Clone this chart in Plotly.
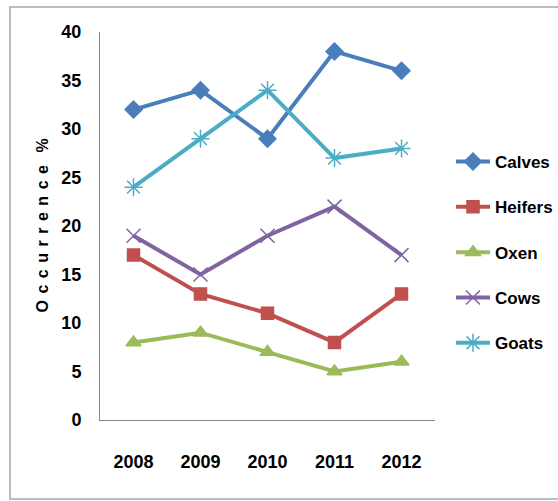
import plotly.graph_objects as go

# Survey years on the category axis
years = ["2008", "2009", "2010", "2011", "2012"]

# Occurrence (%) per animal class
calves = [32, 34, 29, 38, 36]
heifers = [17, 13, 11, 8, 13]
oxen = [8, 9, 7, 5, 6]
cows = [19, 15, 19, 22, 17]
goats = [24, 29, 34, 27, 28]

y_ticks = [0, 5, 10, 15, 20, 25, 30, 35, 40]

series = [
    ("Calves", calves, "#4A7EBB", "diamond", 13),
    ("Heifers", heifers, "#C0504D", "square", 12),
    ("Oxen", oxen, "#9BBB59", "triangle-up", 13),
    ("Cows", cows, "#8064A2", "x-thin-open", 14),
    ("Goats", goats, "#4BACC6", "asterisk-open", 15),
]

FONT = "Liberation Sans, Arial, sans-serif"

fig = go.Figure()
for i, (name, vals, color, symbol, size) in enumerate(series):
    fig.add_trace(go.Scatter(
        x=years, y=vals, name=name, mode="lines+markers",
        legendgroup=f"g{i}",
        line=dict(color=color, width=4),
        marker=dict(symbol=symbol, size=size, color=color,
                    line=dict(color=color, width=1.5)),
    ))

# Plot-area geometry in pixels
W, H = 558, 501
L, R, T, B = 100, 123, 32, 81
pw, ph = W - L - R, H - T - B


def px_x(x):
    return (x - L) / pw


def px_y(y):
    return (H - B - y) / ph


fig.update_layout(
    width=W, height=H,
    margin=dict(l=L, r=R, t=T, b=B, autoexpand=False),
    paper_bgcolor="white", plot_bgcolor="white",
    font=dict(family=FONT, color="black"),
    showlegend=True,
    legend=dict(
        x=px_x(451), y=px_y(144), xanchor="left", yanchor="top",
        font=dict(family=FONT, size=17, color="black", weight="bold"),
        tracegroupgap=20.2, itemwidth=34, bgcolor="rgba(0,0,0,0)",
    ),
    xaxis=dict(
        type="category", range=[-0.5, 4.5],
        showgrid=False, zeroline=False,
        showline=True, linecolor="#868686", linewidth=1,
        ticks="outside", ticklen=25, tickcolor="rgba(0,0,0,0)",
        tickfont=dict(family=FONT, size=18, color="black", weight="bold"),
    ),
    yaxis=dict(
        range=[0, 40], tickvals=y_ticks,
        showgrid=False, zeroline=False,
        showline=True, linecolor="#868686", linewidth=1,
        ticks="outside", ticklen=14, tickcolor="rgba(0,0,0,0)",
        tickfont=dict(family=FONT, size=18, color="black", weight="bold"),
    ),
    annotations=[dict(
        text="Occurrence %", textangle=-90,
        xref="paper", yref="paper", x=px_x(42), y=px_y(222),
        xanchor="center", yanchor="middle", showarrow=False,
        font=dict(family=FONT, size=16, color="black", weight="bold"),
    )],
    shapes=[dict(
        type="rect", xref="paper", yref="paper", layer="below",
        x0=px_x(10), x1=px_x(560), y0=px_y(499), y1=px_y(7),
        line=dict(color="#A6A6A6", width=1.5), fillcolor="rgba(0,0,0,0)",
    )],
)

# Widen the character spacing of the vertical axis caption
spacing_js = """
var gd = document.getElementsByClassName('plotly-graph-div')[0];
function spread() {
  gd.querySelectorAll('.annotation-text').forEach(function (t) {
    t.style.letterSpacing = '6.5px';
    t.style.wordSpacing = '-5px';
  });
}
spread();
gd.on('plotly_afterplot', spread);
"""

fig.write_html("out.html", post_script=spacing_js)
